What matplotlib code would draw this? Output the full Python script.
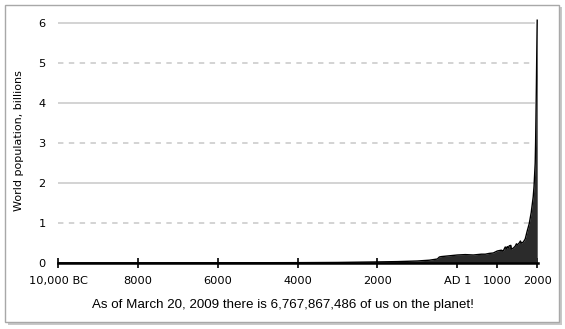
import matplotlib
matplotlib.use("Agg")
import matplotlib.pyplot as plt
from matplotlib.patches import Rectangle

years = [-10000, -8000, -6500, -5000, -4000, -3000, -2000, -1500, -1000, -700, -500,
         -450, -400, -300, -200, 1, 200, 400, 500, 600, 700, 800, 900, 1000,
         1050, 1100, 1150, 1200, 1230, 1250, 1280, 1300, 1340, 1350, 1400, 1430,
         1450, 1480, 1500, 1550, 1580, 1600, 1650, 1700, 1750, 1800, 1850,
         1900, 1920, 1940, 1950, 1960, 1970, 1980, 1990, 2000]
population = [0.004, 0.005, 0.006, 0.007, 0.009, 0.014, 0.027, 0.035, 0.05, 0.07, 0.1,
              0.15, 0.16, 0.17, 0.18, 0.2, 0.21, 0.2, 0.21, 0.22, 0.22, 0.24, 0.25, 0.3,
              0.31, 0.32, 0.3, 0.4, 0.36, 0.41, 0.38, 0.43, 0.44, 0.35, 0.37, 0.4,
              0.42, 0.48, 0.45, 0.5, 0.55, 0.5, 0.52, 0.6, 0.8, 0.98, 1.26,
              1.65, 1.9, 2.3, 2.5, 3.0, 3.7, 4.45, 5.3, 6.07]

xticks = [-10000, -8000, -6000, -4000, -2000, 1, 1000, 2000]
xticklabels = ["10,000 BC", "8000", "6000", "4000", "2000", "AD 1", "1000", "2000"]
yticks = [0, 1, 2, 3, 4, 5, 6]
ylabel = "World population, billions"
caption = "As of March 20, 2009 there is 6,767,867,486 of us on the planet!"

W, H = 565, 329
fig = plt.figure(figsize=(W / 100, H / 100), dpi=100)
fig.patch.set_facecolor("white")

# frame with shadow
fig.patches.append(Rectangle((8 / W, 1 - 325 / H), 554 / W, 318 / H, transform=fig.transFigure,
                             facecolor="#c8c8c8", edgecolor="none", zorder=-2))
fig.patches.append(Rectangle((5 / W, 1 - 322 / H), 554 / W, 317 / H, transform=fig.transFigure,
                             facecolor="white", edgecolor="#a8a8a8", linewidth=1.0, zorder=-1))

x0 = -10000
x1 = 2000
left = 58 / W
right = 538 / W
bottom = 1 - 263 / H
top = 1 - 19 / H
ax = fig.add_axes([left, bottom, right - left, top - bottom])
ax.set_facecolor("none")
ax.set_xlim(x0, x1 + 20)
ax.set_ylim(0, 6.1)

for y in yticks[1:]:
    ls = (0, (3, 3)) if y % 2 else "-"
    ax.plot([x0, 1925], [y, y], color="#d0d0d0", lw=1.3, ls=ls, zorder=1)

ax.fill_between(years, population, 0, color="#2b2b2b", lw=0, zorder=2)
ax.plot(years, population, color="black", lw=1.0, zorder=3)

for s in ["top", "right", "left"]:
    ax.spines[s].set_visible(False)
ax.spines["bottom"].set_linewidth(1.8)
ax.spines["bottom"].set_zorder(4)

ax.set_xticks(xticks)
ax.set_xticklabels(xticklabels, fontsize=8.2)
ax.tick_params(axis="x", direction="inout", length=7, width=1.2, pad=6)
ax.set_yticks(yticks)
ax.set_yticklabels([str(v) for v in yticks], fontsize=8.2)
ax.tick_params(axis="y", length=0, pad=9)
ax.set_ylabel(ylabel, fontsize=8)
ax.yaxis.set_label_coords((24 - 58) / (538 - 58), 0.5)

fig.text(283 / W, 1 - 305 / H, caption, ha="center", va="center", fontsize=9.6,
         family="Liberation Sans")

fig.savefig("out.png", dpi=100)
